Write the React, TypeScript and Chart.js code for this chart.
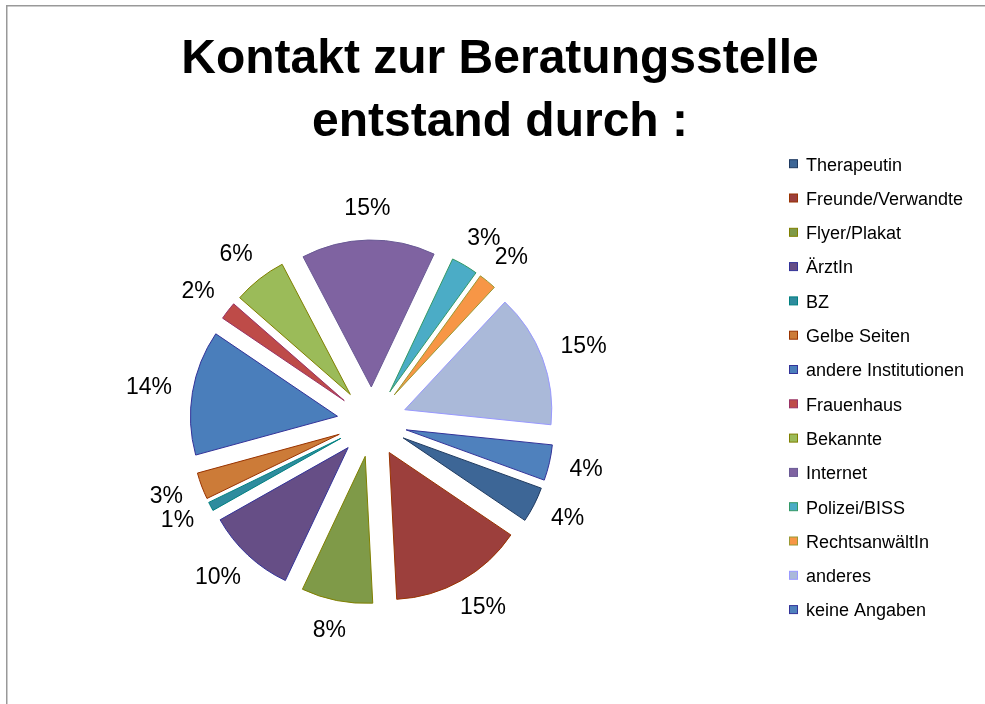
import React, { useEffect, useRef } from "react";
import { Chart, registerables } from "chart.js";

Chart.register(...registerables);

const titleLines = ["Kontakt zur Beratungsstelle", "entstand durch :"];

const categories = [
  "Therapeutin",
  "Freunde/Verwandte",
  "Flyer/Plakat",
  "ÄrztIn",
  "BZ",
  "Gelbe Seiten",
  "andere Institutionen",
  "Frauenhaus",
  "Bekannte",
  "Internet",
  "Polizei/BISS",
  "RechtsanwältIn",
  "anderes",
  "keine Angaben",
];

const percentValues = [4, 15, 8, 10, 1, 3, 14, 2, 6, 15, 3, 2, 15, 4];

const fillColors = [
  "#3D6696",
  "#9C3F3C",
  "#7F9A48",
  "#664E86",
  "#2E8C9E",
  "#CC7B38",
  "#4A7EBB",
  "#BE4B48",
  "#9BBB59",
  "#7F63A1",
  "#4BACC6",
  "#F79646",
  "#AAB9D9",
  "#4F81BD",
];

const borderColors = [
  "#1F3A60",
  "#993300",
  "#808000",
  "#333399",
  "#008080",
  "#993300",
  "#333399",
  "#993366",
  "#808000",
  "#6A5A95",
  "#339966",
  "#999933",
  "#9999FF",
  "#333399",
];

const FONT = "'Liberation Sans', Arial, Helvetica, sans-serif";
const EXPLODE = 35;

const framePlugin = {
  id: "frame",
  beforeDraw(chart: any) {
    const ctx = chart.ctx;
    ctx.save();
    ctx.fillStyle = "#ffffff";
    ctx.fillRect(0, 0, chart.width, chart.height);
    ctx.strokeStyle = "#999999";
    ctx.lineWidth = 1.5;
    ctx.beginPath();
    ctx.moveTo(6.75, chart.height);
    ctx.lineTo(6.75, 5.75);
    ctx.lineTo(chart.width, 5.75);
    ctx.stroke();
    ctx.restore();
  },
};

const explodePlugin = {
  id: "explode",
  beforeDatasetDraw(chart: any, args: any) {
    const ctx = chart.ctx;
    args.meta.data.forEach((arc: any) => {
      const p = arc.getProps(["startAngle", "endAngle"], true);
      const mid = (p.startAngle + p.endAngle) / 2;
      ctx.save();
      ctx.translate(Math.cos(mid) * EXPLODE, Math.sin(mid) * EXPLODE);
      arc.draw(ctx);
      ctx.restore();
    });
    return false;
  },
};

const labelsPlugin = {
  id: "pctLabels",
  afterDatasetsDraw(chart: any) {
    const ctx = chart.ctx;
    const meta = chart.getDatasetMeta(0);
    ctx.save();
    ctx.font = `23px ${FONT}`;
    ctx.fillStyle = "#000000";
    ctx.textAlign = "center";
    ctx.textBaseline = "middle";
    meta.data.forEach((arc: any, i: number) => {
      const p = arc.getProps(["x", "y", "startAngle", "endAngle", "outerRadius"], true);
      const mid = (p.startAngle + p.endAngle) / 2;
      const c = Math.cos(mid);
      const s = Math.sin(mid);
      const ra = p.outerRadius + EXPLODE + 21;
      const text = `${chart.data.datasets[0].data[i]}%`;
      const w = ctx.measureText(text).width;
      const h = 20;
      const x = p.x + c * ra + (c * w) / 2;
      const y = p.y + s * ra + (s * h) / 2;
      ctx.fillText(text, x, y);
    });
    ctx.restore();
  },
};

const titleLegendPlugin = {
  id: "titleLegend",
  afterDraw(chart: any) {
    const ctx = chart.ctx;
    ctx.save();
    ctx.fillStyle = "#000000";
    ctx.font = `bold 48px ${FONT}`;
    ctx.textAlign = "center";
    ctx.textBaseline = "alphabetic";
    ctx.fillText(titleLines[0], 500, 73);
    ctx.fillText(titleLines[1], 500, 136);

    ctx.font = `18px ${FONT}`;
    ctx.textAlign = "left";
    const ds = chart.data.datasets[0];
    chart.data.labels.forEach((lab: string, i: number) => {
      const yc = 163.7 + i * 34.3;
      ctx.fillStyle = ds.backgroundColor[i];
      ctx.fillRect(789.5, yc - 4, 8, 8);
      ctx.strokeStyle = ds.borderColor[i];
      ctx.lineWidth = 1;
      ctx.strokeRect(789.5, yc - 4, 8, 8);
      ctx.fillStyle = "#000000";
      ctx.fillText(lab, 806, yc + 6.8);
    });
    ctx.restore();
  },
};

export default function App() {
  const canvasRef = useRef<HTMLCanvasElement | null>(null);

  useEffect(() => {
    const canvas = canvasRef.current;
    if (!canvas) return;
    const chart = new Chart(canvas, {
      type: "pie",
      data: {
        labels: categories,
        datasets: [
          {
            data: percentValues,
            backgroundColor: fillColors,
            borderColor: borderColors,
            borderWidth: 1,
          },
        ],
      },
      options: {
        responsive: false,
        animation: false,
        events: [],
        radius: 147,
        rotation: 110,
        layout: { padding: { left: 0, right: 241, top: 140, bottom: 0 } },
        plugins: {
          legend: { display: false },
          title: { display: false },
          tooltip: { enabled: false },
        },
      } as any,
      plugins: [framePlugin, explodePlugin, labelsPlugin, titleLegendPlugin],
    });
    return () => chart.destroy();
  }, []);

  return (
    <div style={{ position: "fixed", left: 0, top: 0, width: 985, height: 704, background: "#fff" }}>
      <canvas ref={canvasRef} width={985} height={704} style={{ display: "block", width: 985, height: 704 }} />
    </div>
  );
}
